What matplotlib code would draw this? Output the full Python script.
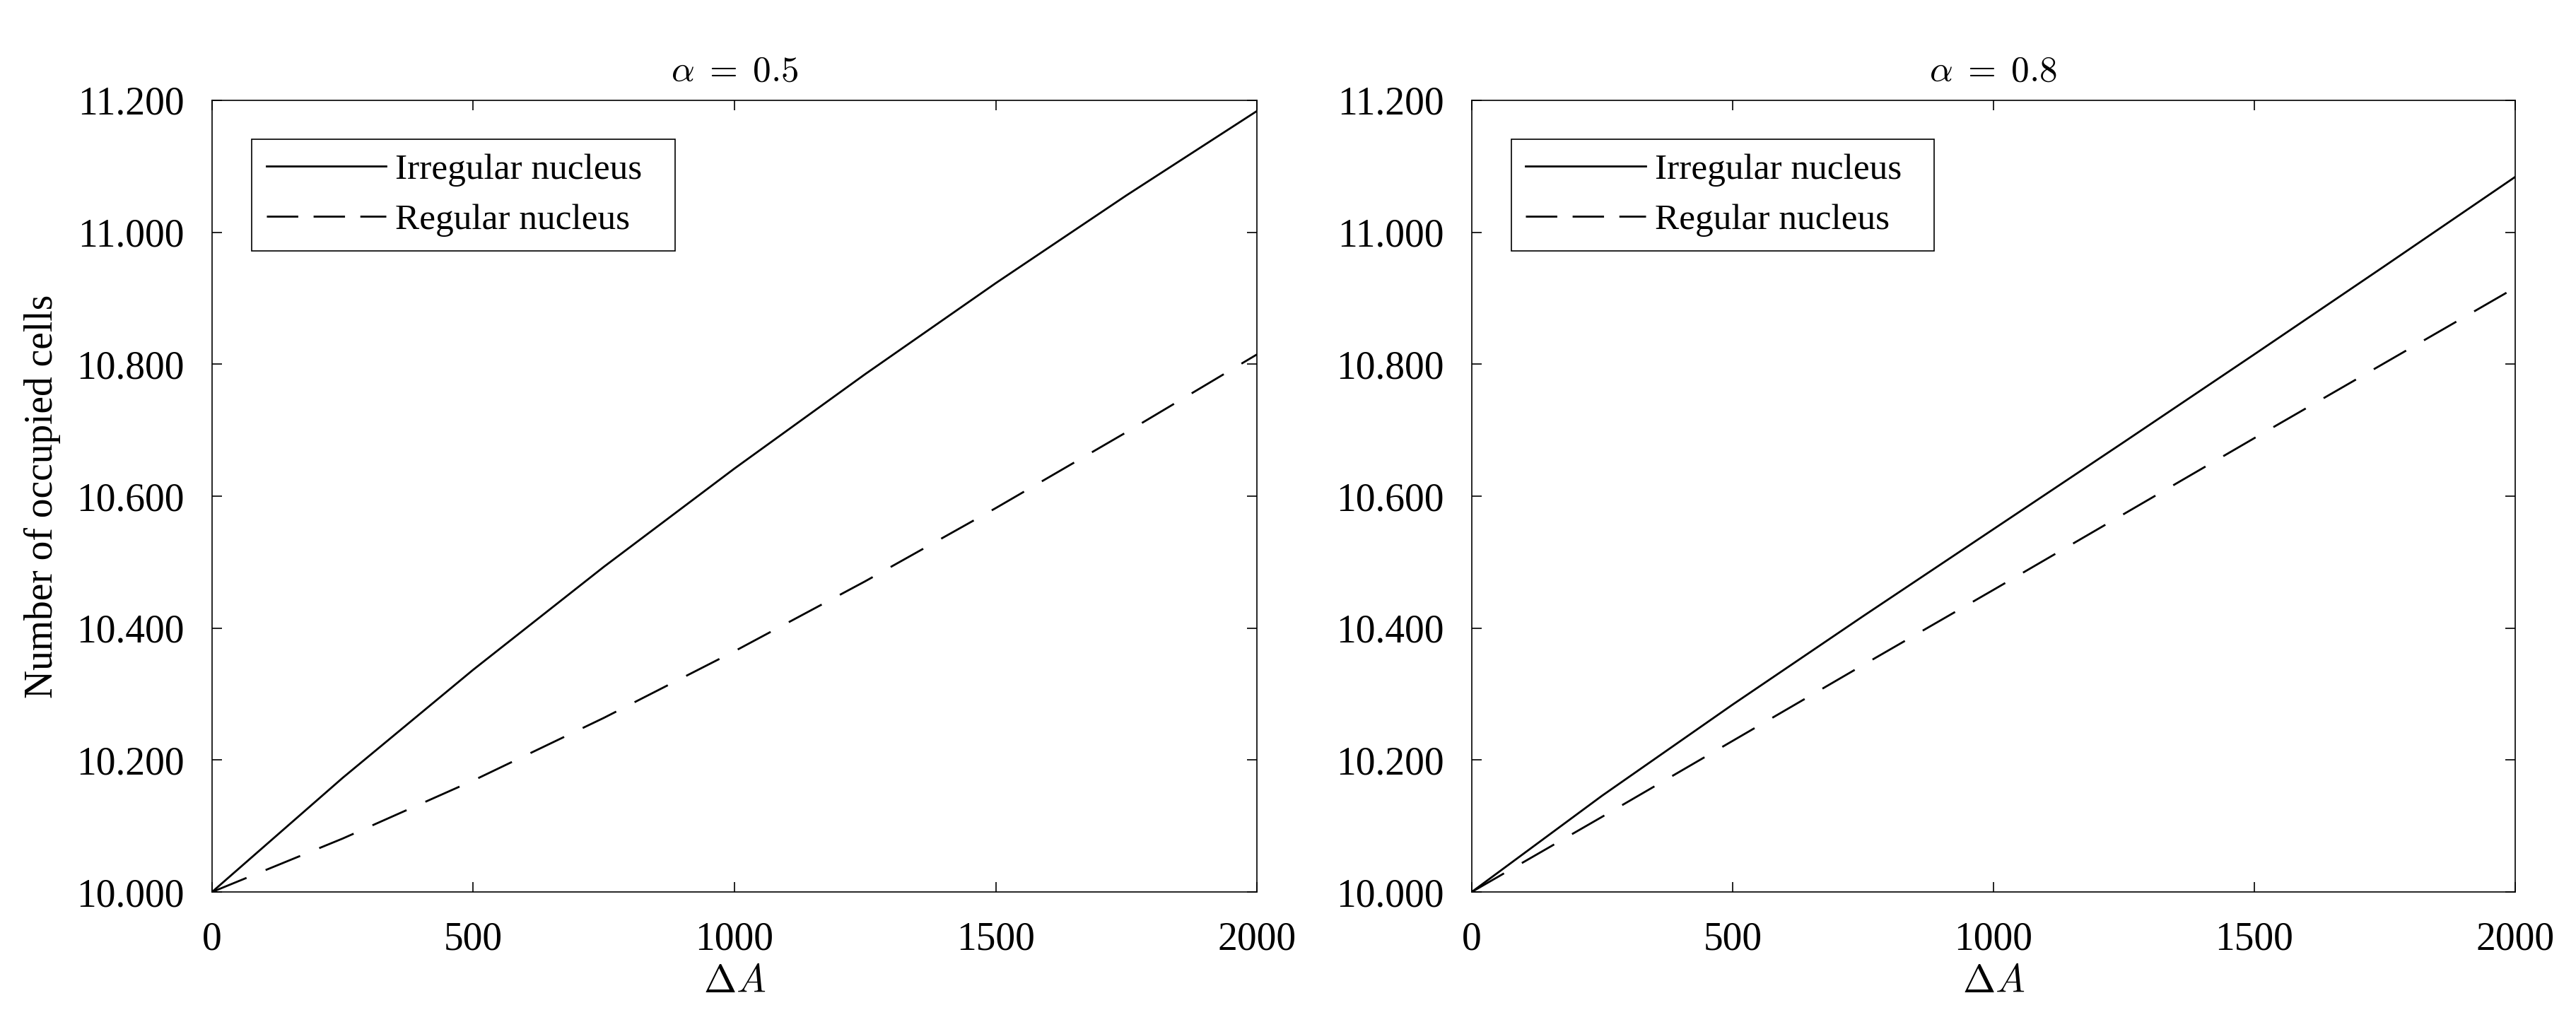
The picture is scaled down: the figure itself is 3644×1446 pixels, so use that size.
import numpy as np
import matplotlib
matplotlib.use("Agg")
import matplotlib.pyplot as plt
from matplotlib.ticker import FormatStrFormatter

plt.rcParams['font.family'] = ['Liberation Serif', 'DejaVu Serif']
plt.rcParams['mathtext.fontset'] = 'cm'

# values
delta_a = [0, 250, 500, 750, 1000, 1250, 1500, 1750, 2000]

irregular_05 = [10.000, 10.173, 10.337, 10.493, 10.642, 10.785, 10.923, 11.056, 11.184]
regular_05 = [10.000, 10.081, 10.169, 10.264, 10.365, 10.471, 10.582, 10.697, 10.815]

irregular_08 = [10.000, 10.146, 10.284, 10.418, 10.550, 10.682, 10.815, 10.949, 11.084]
regular_08 = [10.000, 10.114, 10.229, 10.344, 10.458, 10.573, 10.688, 10.802, 10.916]

titles = [r'$\alpha\;=\;0.5$', r'$\alpha\;=\;0.8$']
series = [(irregular_05, regular_05), (irregular_08, regular_08)]

fig = plt.figure(figsize=(18.22, 7.23), dpi=200)
rects = [[0.0823, 0.1272, 0.4057, 0.7746], [0.5713, 0.1272, 0.4051, 0.7746]]

for i, (rect, title, (irr, reg)) in enumerate(zip(rects, titles, series)):
    ax = fig.add_axes(rect)
    ax.plot(delta_a, irr, color='black', lw=1.0, label='Irregular nucleus')
    ax.plot(delta_a, reg, color='black', lw=1.0, dashes=(19, 10.5), label='Regular nucleus')
    ax.set_xlim(0, 2000)
    ax.set_ylim(10.0, 11.2)
    ax.set_xticks([0, 500, 1000, 1500, 2000])
    ax.set_yticks(np.arange(10.0, 11.21, 0.2))
    ax.yaxis.set_major_formatter(FormatStrFormatter('%.3f'))
    ax.tick_params(direction='in', top=True, right=True, length=5, width=0.6,
                   labelsize=20)
    ax.tick_params(axis='x', pad=15)
    ax.tick_params(axis='y', pad=14)
    for s in ax.spines.values():
        s.set_linewidth(0.6)
    ax.set_title(title, fontsize=18.5, pad=10)
    ax.set_xlabel(r'$\Delta A$', fontsize=20, labelpad=3)
    if i == 0:
        ax.set_ylabel('Number of occupied cells', fontsize=20, labelpad=8)
    # MATLAB-style box: wider than its contents, extra room on the right
    leg = ax.legend(loc='upper left', bbox_to_anchor=(0.038, 0.811, 0.405, 0.14),
                    mode='expand', borderaxespad=0,
                    prop={'family': 'Liberation Serif', 'size': 18.5},
                    handlelength=3.3, fancybox=False, edgecolor='black', framealpha=1,
                    borderpad=0.4, labelspacing=0.45, handletextpad=0.25)
    leg.get_frame().set_linewidth(0.6)
    leg.get_lines()[1].set_dashes((16, 7.8))

fig.savefig('out.png', dpi=200)
